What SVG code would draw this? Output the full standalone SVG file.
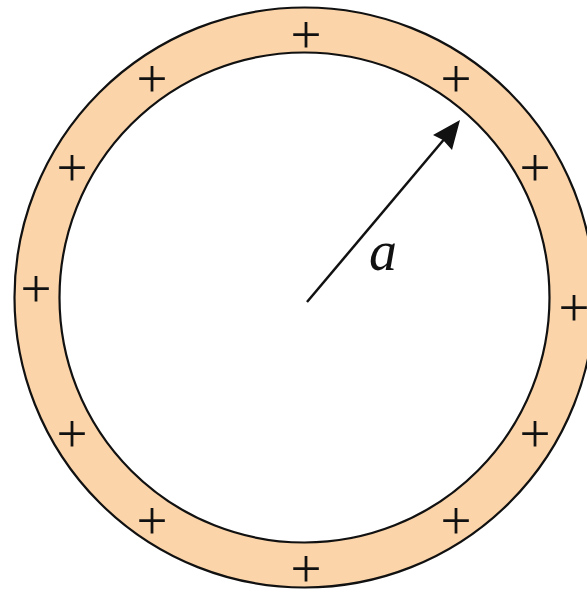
<svg xmlns="http://www.w3.org/2000/svg" width="587" height="593" viewBox="0 0 587 593">
<style>
.ring{fill:#FBD4A9;stroke:#111;stroke-width:2.2}
.hole{fill:#fff;stroke:#111;stroke-width:2.2}
.plus{font-family:"Liberation Serif","Times New Roman",serif;font-size:55px;fill:#111;text-anchor:middle}
.lbl{font-family:"Liberation Serif","Times New Roman",serif;font-style:italic;font-size:56px;fill:#111}
</style>
<g id="shell">
<circle class="ring" cx="304.5" cy="297.5" r="290"/>
<circle class="hole" cx="304.5" cy="297.5" r="245"/>
</g>
<g id="charges">
<text class="plus" x="306" y="53">+</text>
<text class="plus" x="456" y="97">+</text>
<text class="plus" x="535" y="186">+</text>
<text class="plus" x="574" y="326">+</text>
<text class="plus" x="535" y="452">+</text>
<text class="plus" x="456" y="539">+</text>
<text class="plus" x="306" y="587">+</text>
<text class="plus" x="152" y="539">+</text>
<text class="plus" x="72" y="452">+</text>
<text class="plus" x="36" y="307">+</text>
<text class="plus" x="72" y="186">+</text>
<text class="plus" x="152" y="97">+</text>
</g>
<g id="connectors">
<line x1="307" y1="302" x2="446" y2="137" stroke="#111" stroke-width="2.5"/>
<polygon points="460,120 452,150 443,140 433,135" fill="#111"/>
</g>
<g id="label">
<text class="lbl" x="369" y="270">a</text>
</g>
</svg>
